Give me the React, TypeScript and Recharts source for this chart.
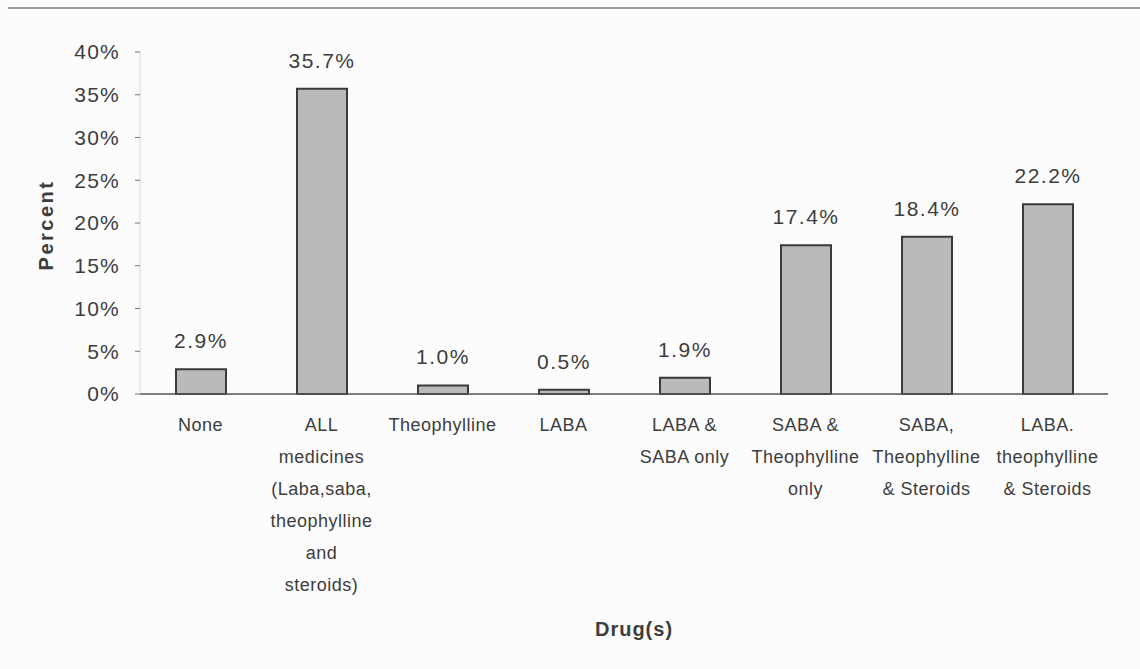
import { BarChart, Bar, XAxis, YAxis, LabelList } from 'recharts'

// drug groups, one wrapped label (lines) per bar
const drugs = [
  'None',
  'ALL medicines (Laba,saba, theophylline and steroids)',
  'Theophylline',
  'LABA',
  'LABA & SABA only',
  'SABA & Theophylline only',
  'SABA, Theophylline & Steroids',
  'LABA. theophylline & Steroids',
]
const drugLines = [
  ['None'],
  ['ALL', 'medicines', '(Laba,saba,', 'theophylline', 'and', 'steroids)'],
  ['Theophylline'],
  ['LABA'],
  ['LABA &', 'SABA only'],
  ['SABA &', 'Theophylline', 'only'],
  ['SABA,', 'Theophylline', '& Steroids'],
  ['LABA.', 'theophylline', '& Steroids'],
]
const percents = [2.9, 35.7, 1.0, 0.5, 1.9, 17.4, 18.4, 22.2]
const yTicks = [0, 5, 10, 15, 20, 25, 30, 35, 40]

const font = 'Arial, "Liberation Sans", Helvetica, sans-serif'
const textColor = '#3d3d3d'

const chartData = drugs.map((d, i) => ({ drug: d, lines: drugLines[i], pct: percents[i] }))

function DrugTick(props: any) {
  const { x, y, index } = props
  const lines = drugLines[index] || []
  return (
    <text x={x} y={y + 37} textAnchor="middle" fill={textColor} fontSize={18} fontFamily={font} letterSpacing={0.5}>
      {lines.map((l, i) => (
        <tspan key={i} x={x} dy={i === 0 ? 0 : 32}>{l}</tspan>
      ))}
    </text>
  )
}

function PercentLabel(props: any) {
  const { viewBox } = props
  if (!viewBox) return null
  const cx = viewBox.x + 16
  const cy = viewBox.y + viewBox.height / 2 + 2
  return (
    <text x={cx} y={cy} transform={`rotate(-90 ${cx} ${cy})`} textAnchor="middle" dominantBaseline="central"
      fill={textColor} fontSize={20} fontWeight="bold" fontFamily={font} letterSpacing={2.5}>
      Percent
    </text>
  )
}

export default function App() {
  return (
    <div style={{ position: 'absolute', left: 0, top: 0, width: 1140, height: 669, background: '#fcfcfc' }}>
      <div style={{ position: 'absolute', left: 8, right: 0, top: 7, borderTop: '2px solid #9c9c9c' }} />
      <BarChart width={1140} height={669} data={chartData} margin={{ top: 52, right: 32, bottom: 20, left: 30 }}>
        <XAxis
          dataKey="drug"
          interval={0}
          height={255}
          tickSize={0}
          tickMargin={0}
          tick={<DrugTick />}
          stroke="#555"
          strokeWidth={1.5}
          label={{
            value: 'Drug(s)',
            position: 'insideBottom',
            offset: 13,
            dx: 10,
            fill: textColor,
            fontSize: 20,
            fontWeight: 'bold',
            fontFamily: font,
            letterSpacing: 1,
          }}
        />
        <YAxis
          width={110}
          domain={[0, 40]}
          ticks={yTicks}
          tickFormatter={(v: number) => `${v}%`}
          tickSize={5}
          tickMargin={15}
          axisLine={{ stroke: '#d8d8d8' }}
          tickLine={{ stroke: '#777' }}
          tick={{ fill: textColor, fontSize: 21, fontFamily: font, letterSpacing: 1.2 }}
          label={<PercentLabel />}
        />
        <Bar dataKey="pct" barSize={50} fill="#bababa" stroke="#3a3a3a" strokeWidth={2} isAnimationActive={false}>
          <LabelList
            dataKey="pct"
            position="top"
            offset={21}
            formatter={(v: any) => `${Number(v).toFixed(1)}%`}
            fill={textColor}
            fontSize={21}
            fontFamily={font}
            letterSpacing={1.5}
          />
        </Bar>
      </BarChart>
    </div>
  )
}
